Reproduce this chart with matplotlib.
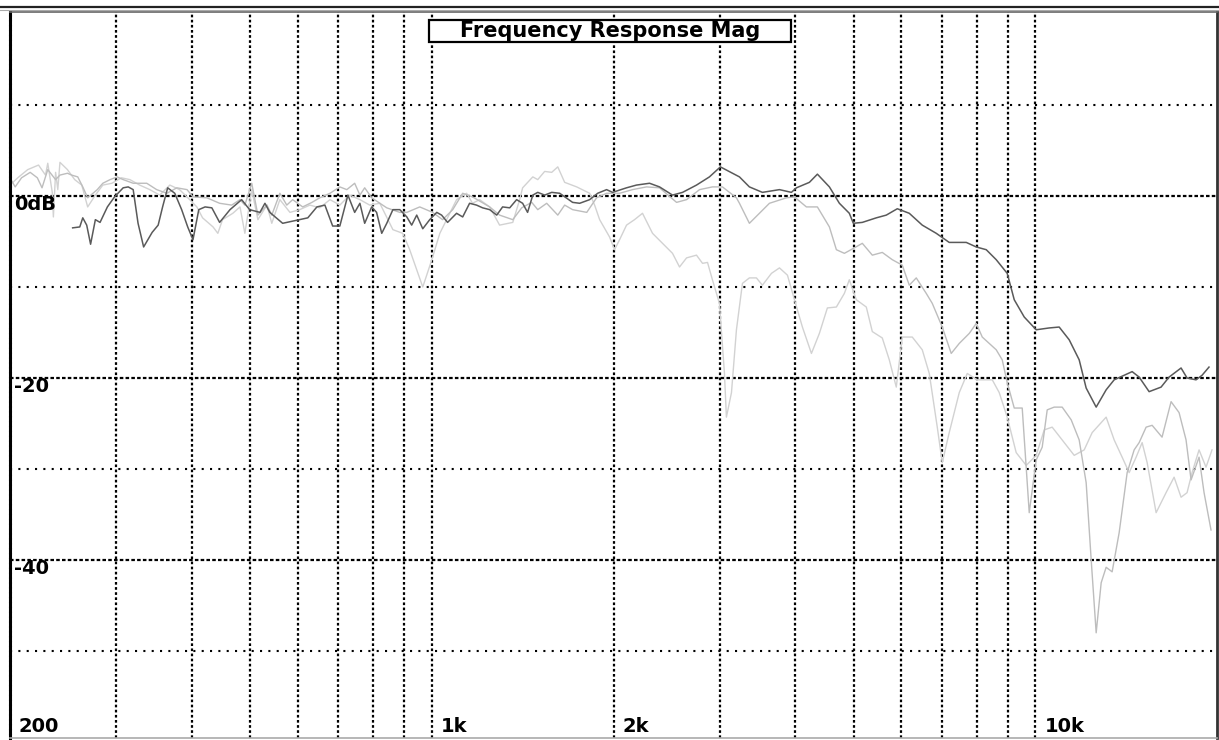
import matplotlib
matplotlib.use("Agg")
import matplotlib.pyplot as plt
from matplotlib.patches import Rectangle
from matplotlib.lines import Line2D

# ---------------- data ----------------
freq_a = [254, 261, 264, 268, 272, 277, 282, 290, 298, 308,
          314, 320, 326, 333, 344, 352, 358, 365, 375, 385,
          394, 402, 411, 421, 432, 445, 463, 484, 499, 519,
          529, 539, 566, 604, 623, 645, 665, 685, 704, 726,
          745, 760, 774, 795, 810, 826, 842, 862, 885, 909,
          926, 944, 966, 992, 1019, 1038, 1062, 1099, 1125, 1155,
          1186, 1214, 1247, 1281, 1310, 1346, 1382, 1414, 1441, 1470,
          1498, 1538, 1580, 1629, 1711, 1758, 1826, 1883, 1948, 1993,
          2102, 2183, 2295, 2384, 2505, 2603, 2745, 2884, 3007, 3149,
          3234, 3359, 3530, 3767, 3943, 4019, 4223, 4354, 4558, 4735,
          4918, 4994, 5168, 5451, 5663, 5906, 6182, 6496, 6852, 7200,
          7683, 7982, 8292, 8614, 8983, 9227, 9586, 10034, 10543, 10953,
          11379, 11821, 12140, 12613, 13102, 13509, 14035, 14469, 14860, 15437,
          16157, 16658, 17438, 17841, 18463, 18892, 19399]
db_a = [-3.5, -3.4, -2.4, -3.2, -5.3, -2.6, -2.9, -1.2, -0.1, 0.9,
        1.0, 0.7, -3.0, -5.6, -4.0, -3.2, -1.2, 0.9, 0.3, -1.5,
        -3.4, -4.8, -1.5, -1.2, -1.3, -2.9, -1.5, -0.4, -1.5, -1.8,
        -0.8, -1.8, -3.0, -2.6, -2.4, -1.2, -1.0, -3.3, -3.3, 0.1,
        -1.8, -0.8, -3.0, -1.2, -1.8, -4.1, -3.0, -1.5, -1.5, -2.3,
        -3.2, -2.1, -3.6, -2.6, -1.8, -2.1, -2.9, -1.9, -2.3, -0.8,
        -1.0, -1.3, -1.5, -2.1, -1.2, -1.3, -0.4, -0.8, -1.8, 0.1,
        0.4, 0.1, 0.4, 0.3, -0.7, -0.8, -0.4, 0.3, 0.7, 0.4,
        0.9, 1.2, 1.4, 1.0, 0.1, 0.4, 1.2, 2.1, 3.2, 2.5,
        2.1, 1.0, 0.4, 0.7, 0.4, 0.9, 1.5, 2.4, 1.0, -0.8,
        -1.9, -3.0, -2.9, -2.4, -2.1, -1.4, -1.9, -3.2, -4.1, -5.1,
        -5.1, -5.6, -5.9, -7.0, -8.5, -11.4, -13.3, -14.7, -14.5, -14.4,
        -15.8, -18.0, -21.1, -23.2, -21.3, -20.2, -19.7, -19.3, -19.9, -21.5,
        -21.0, -19.9, -18.9, -20.0, -20.2, -19.7, -18.8]

freq_b = [200, 204, 209, 216, 222, 226, 231, 238, 242, 249,
          253, 259, 264, 269, 279, 285, 293, 301, 308, 320,
          337, 350, 364, 378, 393, 402, 424, 445, 466, 481,
          490, 503, 515, 533, 543, 560, 575, 588, 611, 633,
          652, 678, 704, 723, 745, 760, 774, 795, 820, 842,
          885, 909, 955, 1003, 1042, 1083, 1125, 1168, 1247, 1295,
          1362, 1409, 1464, 1498, 1550, 1617, 1660, 1711, 1806, 1875,
          1948, 2047, 2150, 2269, 2384, 2544, 2643, 2777, 2917, 3031,
          3197, 3234, 3359, 3490, 3626, 3869, 3989, 4175, 4354, 4558,
          4681, 4826, 5013, 5168, 5369, 5577, 5794, 6019, 6182, 6349,
          6595, 6749, 7011, 7255, 7481, 7772, 7982, 8167, 8614, 8813,
          8983, 9227, 9512, 9770, 10034, 10266, 10464, 10746, 11079, 11467,
          11821, 12140, 12376, 12613, 12856, 13102, 13405, 13769, 14196, 14580,
          14860, 15261, 15615, 16218, 16786, 17305, 17772, 18116, 18677, 19037,
          19548]
db_b = [2.0, 1.0, 2.0, 2.6, 2.0, 0.9, 2.9, 1.8, 2.3, 2.5,
        2.3, 2.1, 1.0, -0.2, 0.7, 1.4, 1.8, 2.1, 1.8, 1.4,
        1.4, 0.7, 0.3, 0.9, 0.7, -0.1, -0.2, -0.8, -1.0, -0.4,
        -1.0, 1.4, -2.1, -1.0, -2.1, 0.3, -1.0, -0.4, -1.2, -0.7,
        -0.2, 0.3, 1.0, 0.7, 1.4, 0.1, 0.9, -0.2, -0.8, -1.3,
        -1.8, -1.8, -1.2, -1.8, -2.6, -1.5, 0.3, -0.1, -1.2, -2.1,
        -2.6, -1.3, -0.7, -1.5, -0.8, -2.1, -1.0, -1.5, -1.8, -0.2,
        0.3, 0.3, 0.7, 1.0, 0.9, -0.7, -0.4, 0.7, 1.0, 1.0,
        -0.2, -0.8, -3.0, -1.9, -0.8, -0.2, -0.1, -1.2, -1.2, -3.4,
        -5.9, -6.3, -5.7, -5.2, -6.5, -6.2, -7.0, -7.6, -9.8, -9.0,
        -10.7, -11.8, -14.4, -17.3, -16.2, -15.1, -14.0, -15.5, -16.9, -18.0,
        -20.5, -23.3, -23.3, -34.8, -29.0, -27.6, -23.5, -23.2, -23.2, -24.6,
        -26.8, -31.5, -40.0, -48.0, -42.5, -40.8, -41.3, -37.0, -30.4, -27.9,
        -27.1, -25.4, -25.2, -26.5, -22.6, -23.8, -26.8, -31.2, -28.7, -32.6,
        -36.7]

freq_c = [200, 206, 214, 223, 229, 231, 235, 236, 238, 240,
          242, 249, 256, 263, 269, 277, 285, 295, 306, 316,
          328, 341, 354, 368, 382, 397, 408, 417, 434, 442,
          450, 468, 481, 490, 503, 515, 533, 543, 560, 582,
          604, 628, 652, 678, 704, 731, 760, 789, 820, 862,
          895, 919, 944, 966, 1000, 1031, 1058, 1099, 1142, 1168,
          1200, 1247, 1295, 1362, 1398, 1414, 1470, 1498, 1538, 1580,
          1617, 1660, 1738, 1826, 1861, 1897, 1970, 2008, 2047, 2102,
          2167, 2234, 2321, 2411, 2505, 2573, 2643, 2745, 2809, 2863,
          2917, 2996, 3054, 3077, 3137, 3197, 3271, 3359, 3450, 3530,
          3654, 3767, 3884, 3989, 4112, 4256, 4387, 4523, 4681, 4826,
          4918, 5051, 5247, 5369, 5577, 5728, 5883, 6019, 6253, 6496,
          6672, 6879, 7011, 7200, 7481, 7713, 8013, 8485, 8713, 8983,
          9296, 9658, 10034, 10345, 10664, 11079, 11599, 12049, 12422, 13102,
          13509, 13927, 14304, 14690, 15031, 15321, 15854, 16467, 16980, 17438,
          17841, 18185, 18677, 19179, 19622]
db_c = [1.2, 2.0, 2.9, 3.4, 2.3, 3.6, 0.4, -2.3, 2.6, 0.7,
        3.7, 2.9, 1.8, 1.2, -1.2, 0.1, 1.2, 1.4, 2.0, 1.8,
        1.2, 0.7, 0.1, 1.2, 0.7, -0.4, -1.2, -2.4, -3.4, -4.1,
        -2.6, -1.9, -1.2, -4.1, 0.7, -2.6, -1.0, -3.0, -0.4, -1.8,
        -1.5, -1.0, -1.3, -0.4, -1.0, 0.1, -0.4, -1.0, -0.8, -3.7,
        -4.1, -5.9, -8.1, -10.0, -7.0, -4.1, -2.6, -0.4, 0.3, -0.8,
        -0.4, -1.2, -3.2, -2.9, -0.4, 0.9, 2.1, 1.8, 2.7, 2.6,
        3.2, 1.5, 1.0, 0.3, -1.0, -2.6, -4.5, -5.9, -4.8, -3.2,
        -2.6, -1.9, -4.1, -5.2, -6.3, -7.8, -6.8, -6.5, -7.4, -7.3,
        -9.2, -11.8, -19.5, -24.3, -21.6, -14.7, -9.6, -9.0, -9.0, -9.8,
        -8.5, -7.9, -8.7, -11.4, -14.4, -17.3, -15.1, -12.3, -12.2, -10.7,
        -9.2, -11.4, -12.2, -14.9, -15.6, -18.0, -21.0, -15.5, -15.5, -16.9,
        -19.5, -25.4, -29.3, -26.0, -21.6, -19.5, -20.2, -20.2, -21.6, -24.3,
        -28.2, -29.6, -28.5, -25.7, -25.4, -26.8, -28.5, -27.9, -26.0, -24.3,
        -26.8, -28.7, -30.4, -28.7, -27.1, -29.3, -34.8, -32.6, -30.9, -33.1,
        -32.6, -30.4, -27.9, -29.8, -27.9]

grid_freqs = [300, 400, 500, 600, 700, 800, 900,
              1000, 2000, 3000, 4000, 5000, 6000, 7000, 8000, 9000, 10000]
major_db = [0, -20, -40]
minor_db = [10, -10, -30, -50]
x_labels = [(200, "200"), (1000, "1k"), (2000, "2k"), (10000, "10k")]
y_labels = [(0, "0dB"), (-20, "-20"), (-40, "-40")]
title = "Frequency Response Mag"

# ---------------- figure ----------------
W, H = 1219, 740
fig = plt.figure(figsize=(W / 100, H / 100), dpi=100)
fig.patch.set_facecolor("white")
ax = fig.add_axes([10 / W, 2 / H, 1207 / W, 726 / H])
ax.set_xscale("log")
ax.set_xlim(200, 20000)
ax.set_ylim(-59.56, 20.22)
ax.set_xticks([])
ax.set_yticks([])
ax.minorticks_off()
ax.tick_params(which="both", length=0, labelbottom=False, labelleft=False)

for f in grid_freqs:
    ax.axvline(f, color="black", lw=1.6, ls=(0, (1.2, 1.1)), zorder=1)
for d in major_db:
    ax.axhline(d, color="black", lw=1.6, ls=(0, (1.6, 1.0)), zorder=1)
for d in minor_db:
    ax.axhline(d, color="black", lw=1.5, ls=(0, (1, 3.0)), zorder=1)

ax.plot(freq_c, db_c, color="#d2d2d2", lw=1.0, zorder=2)
ax.plot(freq_b, db_b, color="#bdbdbd", lw=1.0, zorder=2)
ax.plot(freq_a, db_a, color="#5a5a5a", lw=1.1, zorder=3)

for s in ax.spines.values():
    s.set_linewidth(1.2)
ax.spines["left"].set_color("black")
ax.spines["left"].set_linewidth(2.2)
ax.spines["left"].set_linestyle((0, (1, 0.6)))
ax.spines["right"].set_color("#333333")
ax.spines["right"].set_linewidth(2.0)
ax.spines["top"].set_color("#666666")
ax.spines["bottom"].set_color("#aaaaaa")

lab_font = dict(family="DejaVu Sans", weight="bold", size=14, color="black")
for f, t in x_labels:
    ax.annotate(t, xy=(f, 0), xycoords=("data", "axes fraction"),
                xytext=(9, 12), textcoords="offset pixels",
                ha="left", va="center", zorder=5, **lab_font)
for d, t in y_labels:
    ax.annotate(t, xy=(0, d), xycoords=("axes fraction", "data"),
                xytext=(4, -8), textcoords="offset pixels",
                ha="left", va="center", zorder=5, **lab_font)

# window frame line at the very top
fig.add_artist(Line2D([0, 1], [1 - 6.5 / H, 1 - 6.5 / H], color="#222222", lw=1.6,
                      transform=fig.transFigure))
fig.add_artist(Line2D([0, 1], [1 - 10 / H, 1 - 10 / H], color="#aaaaaa", lw=0.8,
                      transform=fig.transFigure))

# title box
fig.add_artist(Rectangle((429 / W, 1 - 42 / H), 362 / W, 22 / H,
                         transform=fig.transFigure, facecolor="white",
                         edgecolor="black", lw=1.6, zorder=5))
fig.text(610 / W, 1 - 31 / H, title, ha="center", va="center",
         family="DejaVu Sans", weight="bold", size=15, color="black", zorder=6)

fig.savefig("out.png", dpi=100, facecolor="white")
